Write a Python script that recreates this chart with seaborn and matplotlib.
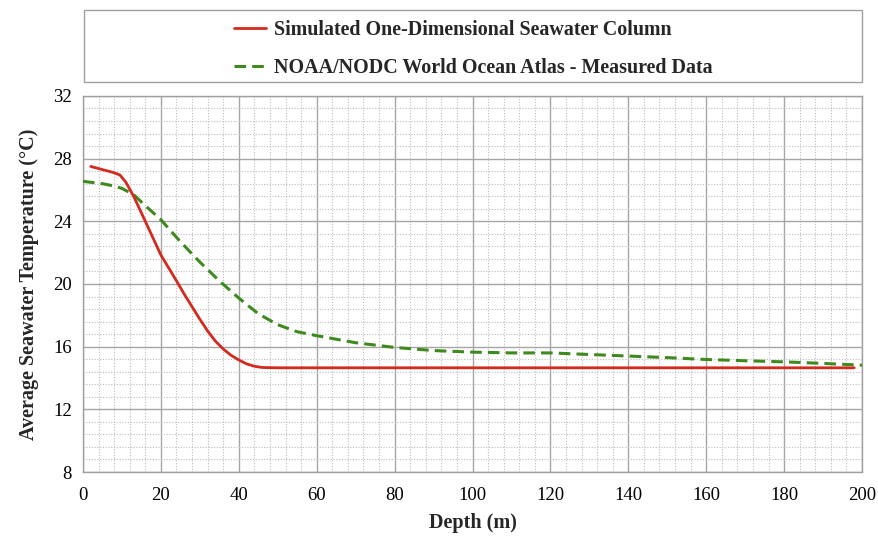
import matplotlib
matplotlib.use("Agg")
import matplotlib.pyplot as plt
from matplotlib.ticker import MultipleLocator
from matplotlib.patches import Rectangle
import seaborn as sns
import pandas as pd

sim_depth = [2, 5, 8, 9.5, 11, 13, 16, 20, 24, 26, 28, 30, 32, 34, 36, 38, 40, 42, 44, 46, 50, 100, 150, 198]
sim_temp = [27.5, 27.3, 27.1, 26.95, 26.5, 25.6, 24.0, 21.85, 20.2, 19.35, 18.55, 17.75, 17.0, 16.35, 15.85, 15.45, 15.15, 14.9, 14.75, 14.67, 14.65, 14.65, 14.65, 14.65]

noaa_depth = [0, 5, 8, 10, 13, 16, 20, 25, 30, 35, 40, 45, 50, 55, 60, 70, 80, 90, 100, 110, 120, 130, 140, 150, 160, 170, 180, 190, 200]
noaa_temp = [26.55, 26.4, 26.25, 26.1, 25.7, 25.0, 24.1, 22.7, 21.4, 20.2, 19.1, 18.1, 17.4, 16.95, 16.7, 16.25, 15.95, 15.75, 15.65, 15.6, 15.6, 15.5, 15.4, 15.3, 15.18, 15.1, 15.03, 14.93, 14.82]

series_labels = ["Simulated One-Dimensional Seawater Column",
                 "NOAA/NODC World Ocean Atlas - Measured Data"]
x_ticks = [0, 20, 40, 60, 80, 100, 120, 140, 160, 180, 200]
y_ticks = [8, 12, 16, 20, 24, 28, 32]

sns.set_theme(style="white")
plt.rcParams['font.family'] = ['Liberation Serif', 'DejaVu Serif']

fig = plt.figure(figsize=(8.79, 5.39), dpi=100)
ax = fig.add_axes([0.0944, 0.1243, 0.8863, 0.6977])

sim = pd.DataFrame({"depth": sim_depth, "temp": sim_temp})
noaa = pd.DataFrame({"depth": noaa_depth, "temp": noaa_temp})

sns.lineplot(data=sim, x="depth", y="temp", ax=ax, color="#d42a1e", lw=2.0,
             sort=False, estimator=None, label=series_labels[0], zorder=4)
sns.lineplot(data=noaa, x="depth", y="temp", ax=ax, color="#3f8a1e", lw=2.2,
             sort=False, estimator=None, label=series_labels[1], zorder=3,
             linestyle=(0, (3.8, 2)))

ax.set_xlim(0, 200)
ax.set_ylim(8, 32)
ax.set_xticks(x_ticks)
ax.set_yticks(y_ticks)
ax.xaxis.set_minor_locator(MultipleLocator(4))
ax.yaxis.set_minor_locator(MultipleLocator(0.8))
ax.grid(which="major", color="#a6a6a6", lw=1.0, ls="-")
ax.grid(which="minor", color="#bdbdbd", lw=0.8, ls=(0, (1, 1.5)))
ax.set_axisbelow(True)
for s in ax.spines.values():
    s.set_color("#a0a0a0")
    s.set_linewidth(1.0)
ax.tick_params(which="major", direction="out", length=5, width=1, color="#a0a0a0",
               labelsize=13.5, labelcolor="black", pad=3)
ax.tick_params(which="minor", length=0)
ax.tick_params(axis="x", pad=6)

ax.set_xlabel("Depth (m)", fontsize=14.5, fontweight="bold", labelpad=6)
ax.set_ylabel("Average Seawater Temperature (\u00b0C)", fontsize=14.5, fontweight="bold", labelpad=10)

ax.get_legend().remove()
handles, labels = ax.get_legend_handles_labels()
fig.patches.append(Rectangle((0.0956, 0.848), 0.885, 0.1336, transform=fig.transFigure,
                             facecolor="white", edgecolor="#a0a0a0", lw=1.0))
fig.legend(handles, labels, loc="center", bbox_to_anchor=(0.538, 0.909),
           frameon=False, prop={"size": 14.4, "weight": "bold"},
           handlelength=1.6, handletextpad=0.4, labelspacing=0.88)

fig.savefig("out.png", dpi=100)
